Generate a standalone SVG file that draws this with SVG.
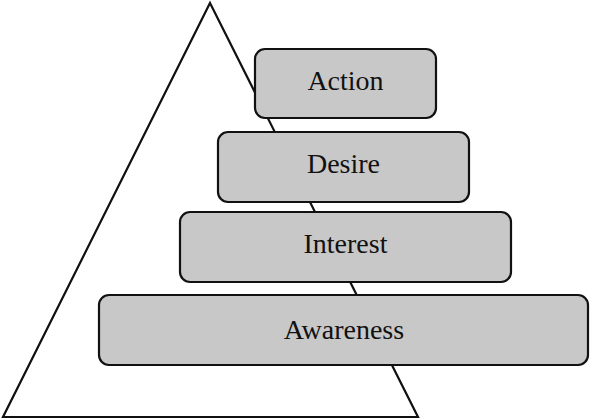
<svg xmlns="http://www.w3.org/2000/svg" width="590" height="419" viewBox="0 0 590 419">
<style>
.box{fill:#c8c8c8;stroke:#111;stroke-width:2.2}
.lbl{font-family:"Liberation Serif","Times New Roman",serif;font-size:28px;fill:#111;text-anchor:middle}
</style>
<rect width="590" height="419" fill="#fff"/>
<g id="connectors">
<polygon points="210,3 418,417 3,417" fill="none" stroke="#111" stroke-width="2.2" stroke-linejoin="miter"/>
</g>
<g id="action"><rect class="box" x="255" y="49" width="181" height="69" rx="10"/><text class="lbl" x="345.5" y="90">Action</text></g>
<g id="desire"><rect class="box" x="218" y="132" width="251" height="70" rx="10"/><text class="lbl" x="343.5" y="173">Desire</text></g>
<g id="interest"><rect class="box" x="180" y="212" width="331" height="70" rx="10"/><text class="lbl" x="345.5" y="253">Interest</text></g>
<g id="awareness"><rect class="box" x="99" y="295" width="489" height="70" rx="10"/><text class="lbl" x="344" y="339">Awareness</text></g>
</svg>
